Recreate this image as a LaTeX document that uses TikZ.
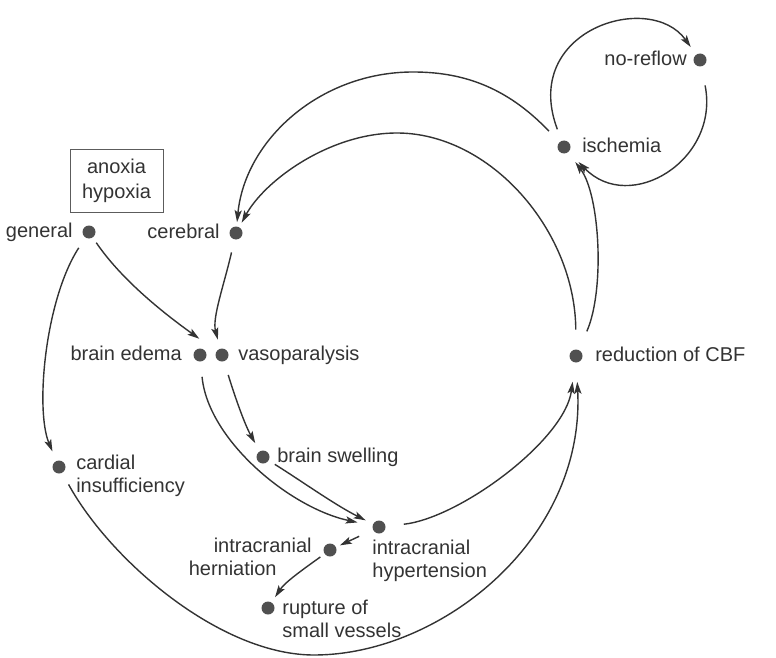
\documentclass[tikz,border=0pt]{standalone}
\usepackage{fontspec}
\setmainfont{Liberation Sans}
\usetikzlibrary{arrows.meta,positioning}
\definecolor{inkgray}{HTML}{333333}
\definecolor{dotgray}{HTML}{505050}

\begin{document}
\begin{tikzpicture}[x=0.5pt, y=-0.5pt,
  dot/.style={circle, fill=dotgray, minimum size=6.5pt, inner sep=0pt},
  txt/.style={inner sep=0pt, font=\fontsize{10}{11.5}\selectfont, text=inkgray, align=left},
  framebox/.style={draw=inkgray!80, line width=0.5pt, minimum width=46.5pt, minimum height=31.5pt, inner sep=0pt, font=\fontsize{10}{12.5}\selectfont, text=inkgray, align=center},
  arr/.style={-{Stealth[length=6pt, width=3.6pt, inset=1.3pt]}, line width=0.7pt, inkgray}
]
  \useasboundingbox (0,0) rectangle (776,658);

  % points of the scheme
  \node[dot] (general) at (89,232) {};
  \node[dot] (cerebral) at (236,233) {};
  \node[dot] (edema) at (200,355) {};
  \node[dot] (vaso) at (222,355) {};
  \node[dot] (swelling) at (263,457) {};
  \node[dot] (hyper) at (379,527) {};
  \node[dot] (hernia) at (330,550) {};
  \node[dot] (rupture) at (268,608) {};
  \node[dot] (cardial) at (59,467) {};
  \node[dot] (cbf) at (576,356) {};
  \node[dot] (ischemia) at (564,147) {};
  \node[dot] (noreflow) at (700,60) {};

  \node[framebox] (anoxia) at (116.5,180.5) {anoxia\\hypoxia};

  % labels
  \node[txt, left=4.5pt of general, anchor=mid east] (generaltxt) {general};
  \node[txt, left=4.5pt of cerebral, anchor=mid east] (cerebraltxt) {cerebral};
  \node[txt, left=5.5pt of edema, anchor=mid east] (edematxt) {brain edema};
  \node[txt, right=4.5pt of vaso, anchor=mid west] (vasotxt) {vasoparalysis};
  \node[txt, right=3.5pt of swelling, anchor=mid west] (swellingtxt) {brain swelling};
  \node[txt, right=5.5pt of ischemia, anchor=mid west] (ischemiatxt) {ischemia};
  \node[txt, left=3pt of noreflow, anchor=mid east] (noreflowtxt) {no-reflow};
  \node[txt, right=6pt of cbf, anchor=mid west] (cbftxt) {reduction of CBF};
  \node[txt, below right=-6pt and 5pt of cardial.east] (cardialtxt) {cardial\\insufficiency};
  \node[txt, below right=6.5pt and -3.5pt of hyper.center] (hypertxt) {intracranial\\hypertension};
  \node[txt, below left=-6pt and 9pt of hernia.center] (herniatxt) {\hspace*{12.5pt}intracranial\\herniation};
  \node[txt, below right=-4pt and 7pt of rupture.center] (rupturetxt) {rupture of\\small vessels};

  % connectors
  \draw[arr, shorten <=3pt, shorten >=10.5pt] (general) .. controls (121,279) and (162,312) .. (vaso);
  \draw[arr, shorten <=6.5pt, shorten >=4.5pt] (cerebral) .. controls (224,285) and (212,318) .. (vaso);
  \draw[arr, shorten <=6pt, shorten >=5pt] (general) .. controls (45,300) and (35,410) .. (cardial);
  \draw[arr, shorten <=7.5pt, shorten >=7.5pt] (edema) .. controls (208,440) and (290,508) .. (hyper);
  \draw[arr, shorten <=7pt, shorten >=4.5pt] (vaso) .. controls (236,400) and (245,425) .. (swelling);
  \draw[arr, shorten <=3.5pt, shorten >=4pt] (swelling) .. controls (300,480) and (335,505) .. (hyper);
  \draw[arr, shorten <=9pt, shorten >=9.5pt] (hyper) .. controls (460,518) and (565,440) .. (cbf);
  \draw[arr, shorten <=6.5pt, shorten >=9.5pt] (cardial) .. controls (110,560) and (220,655) .. (314,655)
    .. controls (440,655) and (585,540) .. (cbf);
  \draw[arr, shorten <=10pt, shorten >=6pt] (cbf) .. controls (605,290) and (600,195) .. (ischemia);
  \draw[arr, shorten <=9.75pt, shorten >=2.5pt] (cbf) .. controls (575,230) and (490,133) .. (397,133)
    .. controls (330,133) and (265,180) .. (cerebral);
  \draw[arr, shorten <=7.5pt, shorten >=2pt] (ischemia) .. controls (505,85) and (460,72) .. (413,72)
    .. controls (320,72) and (245,140) .. (cerebral);
  \draw[arr, shorten <=6pt, shorten >=4.5pt] (ischemia) .. controls (520,30) and (650,-10) .. (noreflow);
  \draw[arr, shorten <=9.5pt, shorten >=7pt] (noreflow) .. controls (720,160) and (630,215) .. (ischemia);
  \draw[arr, shorten <=7.5pt, shorten >=2pt] (hyper) -- (hernia);
  \draw[arr, shorten <=2.5pt, shorten >=3pt] (hernia) .. controls (305,568) and (285,582) .. (rupture);
\end{tikzpicture}
\end{document}
